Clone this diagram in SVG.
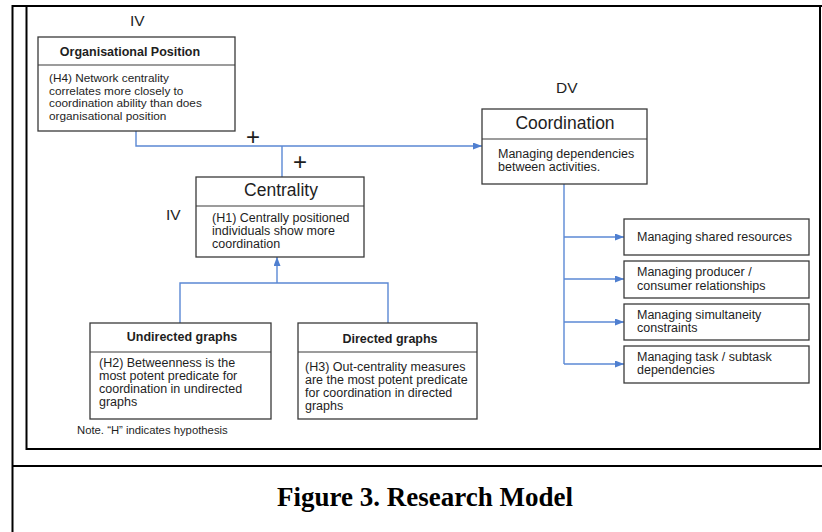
<svg xmlns="http://www.w3.org/2000/svg" width="822" height="532" viewBox="0 0 822 532">
  <defs>
    <marker id="arrow" markerUnits="userSpaceOnUse" markerWidth="9" markerHeight="7" refX="9" refY="3.5" orient="auto">
      <path d="M0,0 L9,3.5 L0,7 z" fill="#4f7fd0"/>
    </marker>
    <style>
      .frame { fill: none; stroke: #000; stroke-width: 2; }
      .box { fill: #fff; stroke: #3a3a3a; stroke-width: 1.3; }
      .div { stroke: #3a3a3a; stroke-width: 1.2; }
      .conn { fill: none; stroke: #5b88d4; stroke-width: 1.4; }
      .t { font-family: "Liberation Sans", Arial, sans-serif; fill: #1e1e1e; }
      .title { font-size: 12.5px; font-weight: bold; text-anchor: middle; }
      .big { font-size: 17.5px; text-anchor: middle; }
      .body { font-size: 12.5px; }
      .small { font-size: 11.8px; }
      .label { font-size: 15.5px; }
      .plus { font-size: 24px; text-anchor: middle; font-weight: 300; }
      .caption { font-family: "Liberation Serif", "Times New Roman", serif; font-size: 27px; font-weight: bold; text-anchor: middle; fill: #000; }
    </style>
  </defs>

  <rect x="0" y="0" width="822" height="532" fill="#fff"/>

  <!-- page frame and figure table -->
  <g id="frame">
    <line class="frame" x1="12.5" y1="5" x2="12.5" y2="532"/>
    <line class="frame" x1="12" y1="6" x2="822" y2="6"/>
    <rect class="frame" x="26.5" y="6" width="793.5" height="443"/>
    <line class="frame" x1="12" y1="466" x2="822" y2="466"/>
  </g>

  <!-- connectors -->
  <g id="connectors">
    <polyline class="conn" points="136,131 136,146 482,146" marker-end="url(#arrow)"/>
    <line class="conn" x1="282" y1="146" x2="282" y2="177"/>
    <polyline class="conn" points="180,323 180,283 388,283 388,323"/>
    <line class="conn" x1="277" y1="283" x2="277" y2="257" marker-end="url(#arrow)"/>
    <line class="conn" x1="564" y1="184" x2="564" y2="364"/>
    <line class="conn" x1="564" y1="237" x2="624" y2="237" marker-end="url(#arrow)"/>
    <line class="conn" x1="564" y1="279" x2="624" y2="279" marker-end="url(#arrow)"/>
    <line class="conn" x1="564" y1="322" x2="624" y2="322" marker-end="url(#arrow)"/>
    <line class="conn" x1="564" y1="364" x2="624" y2="364" marker-end="url(#arrow)"/>
  </g>

  <!-- variable labels and signs -->
  <g id="labels" class="t">
    <text class="label" x="130" y="26">IV</text>
    <text class="label" x="166" y="220">IV</text>
    <text class="label" x="556" y="93">DV</text>
    <text class="plus" x="253" y="145">+</text>
    <text class="plus" x="300" y="170">+</text>
  </g>

  <g id="org-position">
    <rect class="box" x="38" y="37" width="197" height="94"/>
    <line class="div" x1="38" y1="65" x2="235" y2="65"/>
    <text class="t title" x="130" y="56">Organisational Position</text>
    <text class="t small">
      <tspan x="49" y="82">(H4) Network centrality</tspan>
      <tspan x="49" y="94.7">correlates more closely to</tspan>
      <tspan x="49" y="107.4">coordination ability than does</tspan>
      <tspan x="49" y="120.1">organisational position</tspan>
    </text>
  </g>

  <g id="coordination">
    <rect class="box" x="482" y="109" width="165" height="75"/>
    <line class="div" x1="482" y1="139" x2="647" y2="139"/>
    <text class="t big" x="565" y="129">Coordination</text>
    <text class="t body">
      <tspan x="498" y="157.5">Managing dependencies</tspan>
      <tspan x="498" y="171">between activities.</tspan>
    </text>
  </g>

  <g id="centrality">
    <rect class="box" x="196" y="177" width="168" height="80"/>
    <line class="div" x1="196" y1="206" x2="364" y2="206"/>
    <text class="t big" x="281" y="196">Centrality</text>
    <text class="t body">
      <tspan x="212" y="222">(H1) Centrally positioned</tspan>
      <tspan x="212" y="235">individuals show more</tspan>
      <tspan x="212" y="248">coordination</tspan>
    </text>
  </g>

  <g id="undirected">
    <rect class="box" x="90" y="323" width="181" height="96"/>
    <line class="div" x1="90" y1="352" x2="271" y2="352"/>
    <text class="t title" x="182" y="341">Undirected graphs</text>
    <text class="t body">
      <tspan x="99" y="366.5">(H2) Betweenness is the</tspan>
      <tspan x="99" y="379.5">most potent predicate for</tspan>
      <tspan x="99" y="392.5">coordination in undirected</tspan>
      <tspan x="99" y="405.5">graphs</tspan>
    </text>
  </g>

  <g id="directed">
    <rect class="box" x="298" y="323" width="179" height="96"/>
    <line class="div" x1="298" y1="352" x2="477" y2="352"/>
    <text class="t title" x="390" y="342.5">Directed graphs</text>
    <text class="t body">
      <tspan x="305" y="370.5">(H3) Out-centrality measures</tspan>
      <tspan x="305" y="383.5">are the most potent predicate</tspan>
      <tspan x="305" y="396.5">for coordination in directed</tspan>
      <tspan x="305" y="409.5">graphs</tspan>
    </text>
  </g>

  <g id="shared-resources">
    <rect class="box" x="624" y="219" width="185" height="36"/>
    <text class="t body" x="637" y="241">Managing shared resources</text>
  </g>

  <g id="producer-consumer">
    <rect class="box" x="624" y="261" width="185" height="37"/>
    <text class="t body">
      <tspan x="637" y="276">Managing producer /</tspan>
      <tspan x="637" y="289.5">consumer relationships</tspan>
    </text>
  </g>

  <g id="simultaneity">
    <rect class="box" x="624" y="304" width="185" height="36"/>
    <text class="t body">
      <tspan x="637" y="319">Managing simultaneity</tspan>
      <tspan x="637" y="332">constraints</tspan>
    </text>
  </g>

  <g id="task-subtask">
    <rect class="box" x="624" y="346" width="185" height="37"/>
    <text class="t body">
      <tspan x="637" y="361">Managing task / subtask</tspan>
      <tspan x="637" y="374">dependencies</tspan>
    </text>
  </g>

  <text class="t" x="77" y="434" style="font-size:11.3px">Note. “H” indicates hypothesis</text>

  <text class="caption" x="425" y="506">Figure 3. Research Model</text>
</svg>
